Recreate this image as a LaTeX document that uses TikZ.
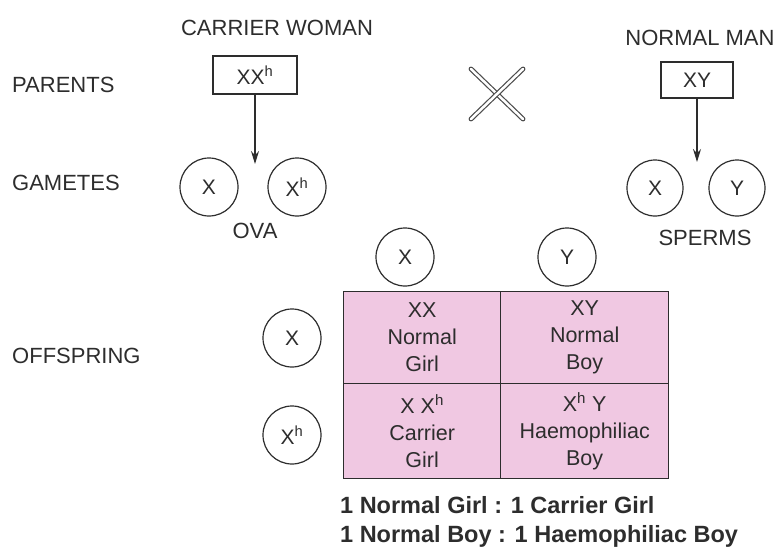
\documentclass[tikz,border=0pt]{standalone}
\usepackage{fontspec}
\setmainfont{Liberation Sans}
\usetikzlibrary{arrows.meta}
\definecolor{ink}{RGB}{45,45,45}
\definecolor{cellpink}{RGB}{240,200,226}
\tikzset{
  lbl/.style={text=ink, font=\fontsize{22}{26}\selectfont, inner sep=0pt},
  geno/.style={draw=ink, line width=1.3pt, text=ink, font=\fontsize{21}{24}\selectfont, minimum width=84pt, minimum height=38pt, inner sep=0pt},
  gam/.style={circle, draw=ink, line width=1.2pt, text=ink, font=\fontsize{21}{24}\selectfont, minimum size=58pt, inner sep=0pt},
  cell/.style={draw=ink, line width=1.3pt, fill=cellpink, text=ink, align=center, font=\fontsize{21.5}{27}\selectfont, inner sep=0pt, anchor=north west},
  arr/.style={draw=ink, line width=1.3pt, -{Stealth[length=13pt,width=8pt]}},
  ratio/.style={text=ink, font=\bfseries\fontsize{23.5}{27}\selectfont, inner sep=0pt, anchor=west},
}
\begin{document}
\begin{tikzpicture}[x=1pt,y=-1pt]
\useasboundingbox (0,0) rectangle (776,551);
% side labels
\node[lbl, anchor=west] (lpar) at (12,85) {PARENTS};
\node[lbl, anchor=west] (lgam) at (12,183) {GAMETES};
\node[lbl, anchor=west] (loff) at (12,356) {OFFSPRING};
% parents
\node[lbl] (cw) at (277,28) {CARRIER WOMAN};
\node[lbl] (nm) at (700,38) {NORMAL MAN};
\node[geno] (mother) at (255,75) {XX\textsuperscript{h}};
\node[geno, minimum width=72pt, minimum height=36pt] (father) at (697,80) {XY};
% cross
\coordinate (c1) at (471,69);
\coordinate (c2) at (523,119);
\coordinate (c3) at (523,69);
\coordinate (c4) at (471,119);
\draw[draw=ink!85, double=white, double distance=2.5pt, line width=1.2pt, line cap=round] (c1) -- (c2);
\draw[draw=ink!85, double=white, double distance=2.5pt, line width=1.2pt, line cap=round] (c3) -- (c4);
% gametes
\node[gam] (ovx) at (209,187) {X};
\node[gam] (ovxh) at (297,187) {X\textsuperscript{h}};
\node[lbl] (ova) at (255,231) {OVA};
\node[gam, minimum size=56pt] (spx) at (655,188) {X};
\node[gam, minimum size=56pt] (spy) at (737,188) {Y};
\node[lbl] (sperms) at (705,238) {SPERMS};
\coordinate (ma) at (255,164);
\coordinate (fa) at (697,162);
\draw[arr] (mother.south) -- (ma);
\draw[arr] (father.south) -- (fa);
% punnett headers
\node[gam] (hx) at (405,257) {X};
\node[gam] (hy) at (567,257) {Y};
\node[gam] (rx) at (292,338) {X};
\node[gam] (rxh) at (292,435) {X\textsuperscript{h}};
% punnett cells
\node[cell, minimum width=157pt, minimum height=92pt] (c11) at (343,291) {XX\\Normal\\Girl};
\node[cell, minimum width=168pt, minimum height=92pt] (c12) at (500,291) {XY\\Normal\\Boy};
\node[cell, minimum width=157pt, minimum height=95pt] (c21) at (343,383) {X X\textsuperscript{h}\\Carrier\\Girl};
\node[cell, minimum width=168pt, minimum height=95pt] (c22) at (500,383) {X\textsuperscript{h} Y\\Haemophiliac\\Boy};
% ratios
\node[ratio] (r1) at (340,505) {1 Normal Girl : 1 Carrier Girl};
\node[ratio] (r2) at (340,536) {1 Normal Boy : 1 Haemophiliac Boy};
\end{tikzpicture}
\end{document}
